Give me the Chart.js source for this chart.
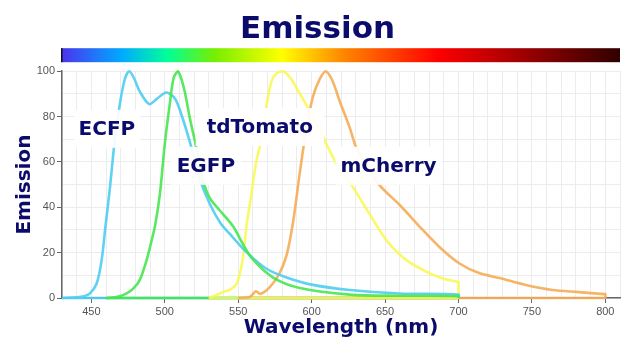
<!DOCTYPE html>
<html lang="en">
<head>
  <meta charset="UTF-8" />
  <title>Emission</title>
  <script src="https://cdn.jsdelivr.net/npm/chart.js"></script>
  <style>
    body { margin: 0; padding: 0; background: #ffffff; }
    #wrap { width: 629px; height: 340px; }
  </style>
</head>
<body>
  <div id="wrap"><canvas id="chart" width="629" height="340"></canvas></div>

  <script>
    // emission spectra, wavelength (nm) / relative emission (%)
    const ecfpNm  = [430, 440, 445, 449, 453.6, 457, 459.5, 462.7, 466, 469.5, 473, 475.8, 479, 483, 489.4, 494.4, 501, 506.9, 511.4, 517, 520.5, 524, 531, 538, 546, 556, 569, 583, 599, 626, 660, 700, 700];
    const ecfpVal = [0, 0.3, 0.8, 2, 6.4, 16.7, 31, 49, 70, 86, 97, 100, 97, 91, 85.5, 87.7, 90.6, 88, 80.7, 69, 60.5, 52, 41, 33, 27, 20, 13, 9, 6, 3.5, 2, 1.5, 0];

    const egfpNm  = [460, 468, 474, 479, 483, 487.6, 490.5, 493.3, 496.7, 500, 503.5, 506, 509, 513, 517, 521.6, 526, 530.7, 537.5, 546.5, 553, 560, 573.8, 592, 626, 660, 700, 700];
    const egfpVal = [0, 0.5, 2, 4.5, 8, 16.7, 24, 31.6, 46, 68, 86, 97, 100, 92.6, 79.5, 66, 52, 44, 38.6, 31.6, 24, 17, 9, 4.4, 1.5, 1, 0.8, 0];

    const tdTomNm  = [530, 537.5, 541, 544, 549, 553, 555.6, 559, 562.4, 565.8, 569, 572.7, 576, 580.5, 585, 589.6, 598.7, 605, 610, 618, 627, 639.5, 651, 664.5, 680, 690, 699, 700, 700];
    const tdTomVal = [0, 2, 3, 3.5, 6.4, 16.7, 31.6, 46, 60.5, 70, 84, 95.6, 99, 100, 97.5, 92.7, 82.5, 75, 68, 58, 50, 37, 25.4, 16.7, 11, 8.5, 7.2, 7.2, 0];

    const mchNm  = [550, 558, 562, 565, 571.5, 578, 583, 587.4, 592, 596.4, 601, 605.5, 609.6, 614, 619, 626, 630.5, 638, 646, 651, 660, 673.5, 687, 700.7, 714, 728, 746, 764, 782, 799, 800, 800];
    const mchVal = [0, 0.5, 3, 1.8, 4.8, 10.7, 19, 33.6, 55.5, 74.5, 89, 96.5, 100, 96, 87, 75, 66, 57.5, 50, 46.5, 41, 31.5, 22.5, 15.2, 11, 8.8, 5.7, 3.5, 2.6, 1.7, 1.7, 0];

    const proteins = ['ECFP', 'EGFP', 'tdTomato', 'mCherry'];
    const xTickLabels = [450, 500, 550, 600, 650, 700, 750, 800];
    const yTickLabels = [0, 20, 40, 60, 80, 100];

    const navy = '#0b0b6b';
    const colors = {
      ECFP: 'rgba(78,205,242,0.9)',
      EGFP: 'rgba(70,230,80,0.9)',
      tdTomato: 'rgba(248,248,80,0.85)',
      mCherry: 'rgba(245,172,85,0.9)'
    };
    const series = [
      { name: 'EGFP', nm: egfpNm, val: egfpVal },
      { name: 'ECFP', nm: ecfpNm, val: ecfpVal },
      { name: 'tdTomato', nm: tdTomNm, val: tdTomVal },
      { name: 'mCherry', nm: mchNm, val: mchVal }
    ];
    // order of the baseline edges, top-most first
    const baseOrder = ['tdTomato', 'mCherry', 'EGFP', 'ECFP'];

    const datasets = [];
    series.forEach(s => {
      datasets.push({
        label: s.name,
        data: s.nm.map((x, i) => ({ x: x, y: s.val[i] })),
        borderColor: colors[s.name],
        borderWidth: 2.6,
        pointRadius: 0,
        tension: 0.3,
        clip: 4,
        fill: false
      });
    });
    // closing edge of each spectrum along the baseline
    baseOrder.forEach(name => {
      const s = series.find(d => d.name === name);
      datasets.push({
        label: name + ' base',
        data: [{ x: s.nm[0], y: 0 }, { x: s.nm[s.nm.length - 1], y: 0 }],
        borderColor: colors[name],
        borderWidth: 2.6,
        pointRadius: 0,
        tension: 0,
        clip: 4,
        fill: false
      });
    });

    // rainbow bar under the title
    const spectrumBar = {
      id: 'spectrumBar',
      afterDraw(chart) {
        const ctx = chart.ctx;
        const a = chart.chartArea;
        const x0 = a.left - 1, x1 = a.right, y0 = a.top - 23, h = 14;
        const g = ctx.createLinearGradient(x0, 0, x1, 0);
        g.addColorStop(0, '#4b32f0');
        g.addColorStop(0.109, '#00aaff');
        g.addColorStop(0.19, '#00ff99');
        g.addColorStop(0.275, '#77ee00');
        g.addColorStop(0.395, '#ffff00');
        g.addColorStop(0.503, '#ff8800');
        g.addColorStop(0.673, '#ff0000');
        g.addColorStop(0.767, '#c40000');
        g.addColorStop(1, '#300000');
        ctx.save();
        ctx.fillStyle = g;
        ctx.fillRect(x0, y0, x1 - x0, h);
        ctx.fillStyle = '#111';
        ctx.fillRect(x0, y0, 1.5, h);
        ctx.restore();
      }
    };

    // protein names in white boxes
    const nameBoxes = {
      id: 'nameBoxes',
      afterDatasetsDraw(chart, args, opts) {
        const ctx = chart.ctx;
        const xs = chart.scales.x, ys = chart.scales.y;
        ctx.save();
        ctx.font = 'bold 20px "DejaVu Sans"';
        ctx.textAlign = 'center';
        ctx.textBaseline = 'middle';
        opts.items.forEach(it => {
          const cx = xs.getPixelForValue(it.x);
          const cy = ys.getPixelForValue(it.y);
          const w = ctx.measureText(it.text).width + it.pad * 2;
          ctx.fillStyle = 'rgba(255,255,255,0.93)';
          ctx.fillRect(cx - w / 2, cy - 19, w, 38);
          ctx.fillStyle = navy;
          ctx.fillText(it.text, cx, cy + 1);
        });
        ctx.restore();
      }
    };

    new Chart(document.getElementById('chart'), {
      type: 'line',
      data: { datasets: datasets },
      plugins: [spectrumBar, nameBoxes],
      options: {
        responsive: false,
        animation: false,
        layout: { padding: { left: 15, right: 9, top: 0, bottom: 0 } },
        plugins: {
          legend: { display: false },
          tooltip: { enabled: false },
          title: {
            display: true,
            text: 'Emission',
            color: navy,
            font: { family: '"DejaVu Sans"', size: 31, weight: 'bold' },
            padding: { top: 11, bottom: 23 }
          },
          nameBoxes: {
            items: [
              { text: proteins[0], x: 460.6, y: 74.6, pad: 5 },
              { text: proteins[1], x: 528, y: 58.3, pad: 6 },
              { text: proteins[2], x: 564.7, y: 75.4, pad: 11 },
              { text: proteins[3], x: 652.4, y: 58.3, pad: 5 }
            ]
          }
        },
        scales: {
          x: {
            type: 'linear',
            min: 430,
            max: 810,
            afterFit: s => { s.height = 42; },
            ticks: {
              stepSize: 10,
              autoSkip: false,
              maxRotation: 0,
              padding: 2,
              color: '#555',
              font: { family: '"Liberation Sans"', size: 11 },
              callback: v => xTickLabels.includes(v) ? String(v) : ''
            },
            grid: {
              color: '#ececec',
              tickLength: 5,
              tickColor: c => xTickLabels.includes(c.tick && c.tick.value) ? '#666' : 'rgba(0,0,0,0)'
            },
            border: { color: '#666', width: 1.5 },
            title: {
              display: true,
              text: 'Wavelength (nm)',
              color: navy,
              font: { family: '"DejaVu Sans"', size: 20, weight: 'bold', lineHeight: 1 },
              padding: { top: 0, bottom: 2 }
            }
          },
          y: {
            min: 0,
            max: 100,
            afterFit: s => { s.width = 47; },
            ticks: {
              stepSize: 10,
              padding: 2,
              color: '#555',
              font: { family: '"Liberation Sans"', size: 11 },
              callback: v => yTickLabels.includes(v) ? String(v) : ''
            },
            grid: {
              color: '#ececec',
              tickLength: 5,
              tickColor: c => yTickLabels.includes(c.tick && c.tick.value) ? '#666' : 'rgba(0,0,0,0)'
            },
            border: { color: '#666', width: 1.5 },
            title: {
              display: true,
              text: 'Emission',
              color: navy,
              font: { family: '"DejaVu Sans"', size: 20, weight: 'bold', lineHeight: 1 },
              padding: { top: 0, bottom: 0 }
            }
          }
        }
      }
    });
  </script>
</body>
</html>
